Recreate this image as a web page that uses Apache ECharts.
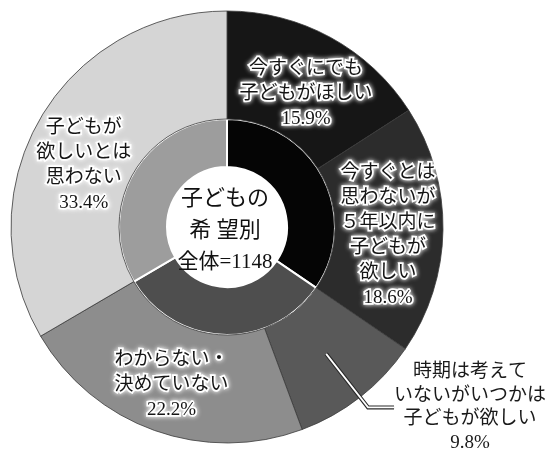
<!DOCTYPE html>
<html>
<head>
<meta charset="utf-8">
<script src="https://cdn.jsdelivr.net/npm/echarts@6/dist/echarts.min.js"></script>
<style>
  html, body { margin: 0; padding: 0; background: #fff; }
  #chart { width: 555px; height: 452px; }
</style>
</head>
<body>
<div id="chart"></div>
<script>
// Answer categories (outer ring), clockwise from 12 o'clock
const categories = [
  '今すぐにでも\n子どもがほしい',
  '今すぐとは\n思わないが\n５年以内に\n子どもが\n欲しい',
  '時期は考えて\nいないがいつかは\n子どもが欲しい',
  'わからない・\n決めていない',
  '子どもが\n欲しいとは\n思わない'
];
// Share of respondents, %
const shares = [15.9, 18.6, 9.8, 22.2, 33.4];
// Inner ring grouping: wants children / undecided / does not want
const groupNames = ['欲しい', 'わからない', '欲しくない'];
const groupOf = [0, 0, 1, 1, 2];
// Centre caption
const centerLines = ['子どもの', '希 望別', '全体=1148'];

const outerColors = ['#161616', '#2c2c2c', '#595959', '#8d8d8d', '#d5d5d5'];
const innerColors = ['#050505', '#4e4e4e', '#9d9d9d'];

const FONT = '"Liberation Serif", "Noto Sans CJK JP", serif';
const CX = 227, CY = 227;
const OUTSIDE_IDX = 2; // labelled outside with a leader line

const groupValues = groupNames.map((_, g) =>
  +shares.reduce((s, v, i) => s + (groupOf[i] === g ? v : 0), 0).toFixed(1));

const haloLabel = {
  show: true,
  position: 'inside',
  color: '#151515',
  fontFamily: FONT,
  fontSize: 19,
  lineHeight: 25,
  textBorderColor: '#ffffff',
  textBorderWidth: 3.5,
  textShadowColor: '#ffffff',
  textShadowBlur: 5,
  formatter: p => p.name + '\n' + p.value.toFixed(1) + '%'
};

const labelOffsets = [[0, 12], [-4, 6], null, [0, 3], [0, 21]];
const outerData = categories.map((name, i) => {
  const d = { name, value: shares[i], itemStyle: { color: outerColors[i] } };
  if (i === OUTSIDE_IDX) d.label = { show: false };
  else if (labelOffsets[i]) d.label = { offset: labelOffsets[i] };
  return d;
});

// Transparent helper pie whose only visible parts are the leader line
// and the outside label of one category.
function leaderSeries(lineColor, lineWidth, textColor, z) {
  return {
    type: 'pie',
    center: [CX, CY],
    radius: [0, 161],
    startAngle: 90,
    clockwise: true,
    silent: true,
    z,
    avoidLabelOverlap: false,
    labelLayout: { hideOverlap: false },
    itemStyle: { color: 'rgba(0,0,0,0)', borderWidth: 0 },
    emphasis: { disabled: true },
    labelLine: {
      show: true,
      length: 68,
      length2: 26,
      smooth: false,
      lineStyle: { color: lineColor, width: lineWidth }
    },
    label: { show: false },
    data: categories.map((name, i) => ({
      name,
      value: shares[i],
      label: i === OUTSIDE_IDX ? {
        show: true,
        position: 'outside',
        alignTo: 'none',
        distanceToLabelLine: 0,
        width: 152,
        overflow: 'none',
        formatter: p => p.name.split('\n').concat(p.value.toFixed(1) + '%')
          .map(t => '{c|' + t + '}').join('\n'),
        rich: {
          c: {
            width: 152,
            align: 'center',
            color: textColor,
            fontFamily: FONT,
            fontSize: 19,
            lineHeight: 23.5
          }
        }
      } : { show: false },
      labelLine: { show: i === OUTSIDE_IDX }
    }))
  };
}

const chart = echarts.init(document.getElementById('chart'), null, { renderer: 'canvas' });
chart.setOption({
  backgroundColor: '#ffffff',
  animation: false,
  series: [
    {
      name: 'inner',
      type: 'pie',
      center: [CX, CY],
      radius: [60, 108],
      startAngle: 90,
      clockwise: true,
      silent: true,
      label: { show: false },
      labelLine: { show: false },
      itemStyle: { borderColor: '#ffffff', borderWidth: 2 },
      data: groupNames.map((name, g) => ({
        name, value: groupValues[g], itemStyle: { color: innerColors[g] }
      }))
    },
    {
      name: 'outer',
      type: 'pie',
      center: [CX, CY],
      radius: [108, 216],
      startAngle: 90,
      clockwise: true,
      silent: true,
      avoidLabelOverlap: false,
      itemStyle: { borderColor: '#3a3a3a', borderWidth: 0.8 },
      label: haloLabel,
      labelLine: { show: false },
      data: outerData
    },
    leaderSeries('#2a2a2a', 4, '#1a1a1a', 3),
    leaderSeries('#ffffff', 1.8, 'rgba(0,0,0,0)', 4)
  ],
  graphic: [{
    type: 'text',
    x: CX - 2,
    y: 230,
    z: 10,
    style: {
      text: centerLines.map((t, i) => (i < 2 ? '{a|' : '{b|') + t + '}').join('\n'),
      align: 'center',
      verticalAlign: 'middle',
      rich: {
        a: { fontFamily: FONT, fontSize: 22, lineHeight: 32, fill: '#111' },
        b: { fontFamily: FONT, fontSize: 21, lineHeight: 30, fill: '#111' }
      }
    }
  }]
});
</script>
</body>
</html>
